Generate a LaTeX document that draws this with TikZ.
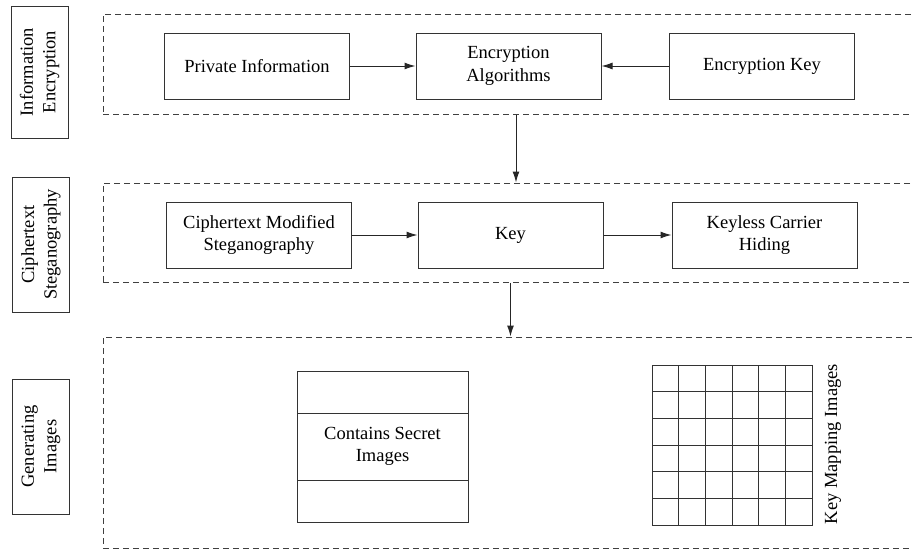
\documentclass[tikz,border=0pt]{standalone}
\usepackage{fontspec}
\setmainfont{Liberation Serif}
\usetikzlibrary{arrows.meta,positioning}

\begin{document}
\begin{tikzpicture}[x=1pt, y=-1pt,
		font=\fontsize{18.5}{22.5}\selectfont,
		block/.style={draw=black!80, line width=1pt, align=center, minimum height=66pt, minimum width=185pt},
		side/.style={draw=black!80, line width=1pt, align=center, rotate=90, minimum height=57pt},
		stage/.style={draw=black!75, dashed, dash pattern=on 6pt off 4pt, line width=1pt, minimum width=819pt},
		arr/.style={-{Latex[length=11pt, width=7pt]}, line width=1pt, black!85}
	]
		\useasboundingbox (0,0) rectangle (912,552);

		% side labels
		\node[side, minimum width=132pt] (lab1) at (39.5,72) {Information\\Encryption};
		\node[side, minimum width=135pt] (lab2) at (41,244.5) {Ciphertext\\Steganography};
		\node[side, minimum width=135pt] (lab3) at (41,446.5) {Generating\\Images};

		% dashed stages
		\node[stage, minimum height=100pt] (st1) at (512.5,64) {};
		\node[stage, minimum height=99pt] (st2) at (512.5,232.5) {};
		\node[stage, minimum height=211pt] (st3) at (512.5,442.5) {};

		% stage 1
		\node[block] (priv) at (257,66) {Private Information};
		\node[block] (alg) at (508.5,66) {Encryption\\Algorithms};
		\node[block] (ekey) at (762,66) {Encryption Key};

		\draw[arr] (priv) -- (alg);
		\draw[arr] (ekey) -- (alg);

		% stage 2
		\node[block] (cms) at (259,235) {Ciphertext Modified\\Steganography};
		\node[block] (key) at (510.5,235) {Key};
		\node[block] (kch) at (764.5,235) {Keyless Carrier\\Hiding};

		\draw[arr] (cms) -- (key);
		\draw[arr] (key) -- (kch);

		\draw[arr] (st1.south -| 516,0) -- (st2.north -| 516,0);
		\draw[arr] (st2.south -| key) -- (st3.north -| key);

		% stage 3
		\node[draw=black!80, line width=1pt, minimum width=171pt, minimum height=151pt] (img) at (382.5,446.5) {};
		\node[draw=black!80, line width=1pt, align=center, minimum width=171pt, minimum height=67pt] (sec) at (img) {Contains Secret\\Images};

		\draw[black!80, line width=1pt] (652,365) rectangle (812,525);
		\foreach \i in {1,...,5} {
			\draw[black!80, line width=1pt] (652+26.67*\i,365) -- (652+26.67*\i,525);
			\draw[black!80, line width=1pt] (652,365+26.67*\i) -- (812,365+26.67*\i);
		}
		\node[rotate=90] (kmi) at (833,444) {Key Mapping Images};
	\end{tikzpicture}
\end{document}
